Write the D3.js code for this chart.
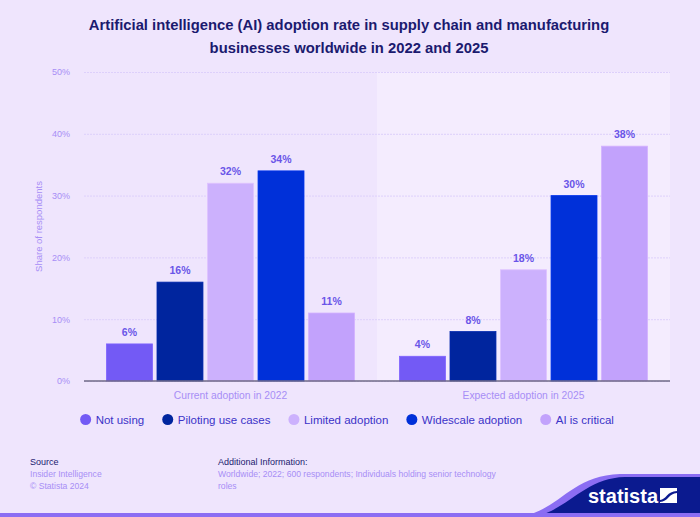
<!DOCTYPE html>
<html>
<head>
<meta charset="utf-8">
<script src="https://cdn.jsdelivr.net/npm/d3@7"></script>
<style>
  html, body { margin: 0; padding: 0; background: #efe5fd; }
  svg { display: block; font-family: "Liberation Sans", Arial, sans-serif; }
</style>
</head>
<body>
<svg id="chart" width="700" height="517"></svg>
<script>
const categories = ["Current adoption in 2022", "Expected adoption in 2025"];
const seriesNames = ["Not using", "Piloting use cases", "Limited adoption", "Widescale adoption", "AI is critical"];
const seriesColors = ["#735af5", "#00259e", "#ccb1fd", "#0030d9", "#c2a2fc"];
const values2022 = [6, 16, 32, 34, 11];
const values2025 = [4, 8, 18, 30, 38];
const yTicks = [0, 10, 20, 30, 40, 50];
const titleLines = ["Artificial intelligence (AI) adoption rate in supply chain and manufacturing", "businesses worldwide in 2022 and 2025"];
const sourceLines = ["Insider Intelligence", "\u00a9 Statista 2024"];
const infoLines = ["Worldwide; 2022; 600 respondents; Individuals holding senior technology", "roles"];

const dataRows = [values2022, values2025];

const svg = d3.select("#chart");
const W = 700, H = 517;
const m = { left: 84, right: 30, top: 72, bottom: 136 };
const plotR = W - m.right, plotB = H - m.bottom;

// Title
const title = svg.append("g");
titleLines.forEach((t, i) => {
  title.append("text")
    .attr("x", 349).attr("y", 29.5 + i * 23)
    .attr("text-anchor", "middle")
    .attr("font-size", 14.8).attr("font-weight", "bold")
    .attr("fill", "#1b1a6f")
    .text(t);
});

const x0 = d3.scaleBand().domain(categories).range([m.left, plotR]).paddingInner(0).paddingOuter(0);
const x1 = d3.scaleBand().domain(seriesNames).range([0, x0.bandwidth()]).paddingInner(0.09).paddingOuter(0.445);
const y = d3.scaleLinear().domain([0, 50]).range([plotB, m.top]);

// highlight of second group
svg.append("rect")
  .attr("x", x0(categories[1])).attr("y", y(50))
  .attr("width", x0.bandwidth()).attr("height", plotB - y(50))
  .attr("fill", "#f4ecfe");

// gridlines
const yAxis = d3.axisLeft(y).tickValues(yTicks).tickSize(-(plotR - m.left)).tickFormat(d => d + "%");
const gy = svg.append("g").attr("transform", `translate(${m.left},0)`).call(yAxis);
gy.select(".domain").remove();
gy.selectAll(".tick line").attr("stroke", "#ddd0fb").attr("stroke-width", 1).attr("stroke-dasharray", "2,1");
gy.selectAll(".tick text").attr("x", -14).attr("fill", "#a78ef6").attr("font-size", 9).attr("font-family", "Liberation Sans, Arial, sans-serif");

// y title
svg.append("text")
  .attr("transform", `translate(42,${(m.top + plotB) / 2}) rotate(-90)`)
  .attr("text-anchor", "middle")
  .attr("font-size", 9.5).attr("fill", "#a78ef6")
  .text("Share of respondents");

// bars
const groups = svg.append("g").selectAll("g").data(categories).join("g")
  .attr("transform", d => `translate(${x0(d)},0)`);

groups.each(function(cat, ci) {
  const g = d3.select(this);
  const vals = dataRows[ci].map((v, si) => ({ s: seriesNames[si], v, c: seriesColors[si] }));
  g.selectAll("rect").data(vals).join("rect")
    .attr("x", d => x1(d.s)).attr("y", d => y(d.v))
    .attr("width", x1.bandwidth()).attr("height", d => plotB - y(d.v))
    .attr("fill", d => d.c)
    .attr("stroke", d => d3.color(d.c).brighter(0.25)).attr("stroke-width", 0.8);
  g.selectAll("text.val").data(vals).join("text")
    .attr("class", "val")
    .attr("x", d => x1(d.s) + x1.bandwidth() / 2).attr("y", d => y(d.v) - 8)
    .attr("text-anchor", "middle")
    .attr("font-size", 10.5).attr("font-weight", "bold")
    .attr("fill", "#6a55e8")
    .text(d => d.v + "%");
});

// baseline
svg.append("line").attr("x1", m.left).attr("x2", plotR).attr("y1", plotB).attr("y2", plotB)
  .attr("stroke", "#6f6a86").attr("stroke-width", 1.5);

// category labels
const xAxis = d3.axisBottom(x0).tickSize(0).tickPadding(11);
const gx = svg.append("g").attr("transform", `translate(0,${plotB})`).call(xAxis);
gx.select(".domain").remove();
gx.selectAll(".tick text").attr("fill", "#a78ef6").attr("font-size", 10.3).attr("font-family", "Liberation Sans, Arial, sans-serif");

// legend
const leg = svg.append("g");
let lx = 0;
const gap = 18;
seriesNames.forEach((s, i) => {
  const it = leg.append("g");
  it.append("circle").attr("cx", 5.5).attr("cy", 0).attr("r", 5.5).attr("fill", seriesColors[i]);
  const t = it.append("text").attr("x", 15.5).attr("y", 4).attr("font-size", 11.5).attr("fill", "#3b33c8").text(s);
  const w = 15.5 + t.node().getComputedTextLength();
  it.attr("transform", `translate(${lx},0)`);
  lx += w + gap;
});
const legW = lx - gap;
leg.attr("transform", `translate(${347 - legW / 2},419.5)`);

// footer
svg.append("text").attr("x", 30).attr("y", 465).attr("font-size", 9).attr("fill", "#1b1a6f").text("Source");
sourceLines.forEach((t, i) => svg.append("text").attr("x", 30).attr("y", 477 + i * 11.5).attr("font-size", 8.6).attr("fill", "#a78ef6").text(t));
svg.append("text").attr("x", 218).attr("y", 465).attr("font-size", 9).attr("fill", "#1b1a6f").text("Additional Information:");
infoLines.forEach((t, i) => svg.append("text").attr("x", 218).attr("y", 477 + i * 11.5).attr("font-size", 8.6).attr("fill", "#a78ef6").text(t));

// bottom swoosh
svg.append("path")
  .attr("d", "M520,517 C560,510 570,476 620,474 L700,474 L700,517 Z")
  .attr("fill", "#8b6df3");
svg.append("path")
  .attr("d", "M535,517 C570,508 585,478 625,477 L700,477 L700,517 Z")
  .attr("fill", "#0b1a8f");
svg.append("rect").attr("x", 0).attr("y", 513).attr("width", 700).attr("height", 4).attr("fill", "#8b6df3");
svg.append("text").attr("x", 588).attr("y", 503).attr("font-size", 20).attr("font-weight", "bold")
  .attr("fill", "#ffffff").text("statista");
// logo mark
const lg = svg.append("g").attr("transform", "translate(660,488)");
lg.append("rect").attr("width", 17).attr("height", 15).attr("fill", "#ffffff");
lg.append("path").attr("d", "M0,12 C6,12 7,3 17,3 L17,5 C9,5 8,14 0,14 Z").attr("fill", "#0b1a8f");
</script>
</body>
</html>
